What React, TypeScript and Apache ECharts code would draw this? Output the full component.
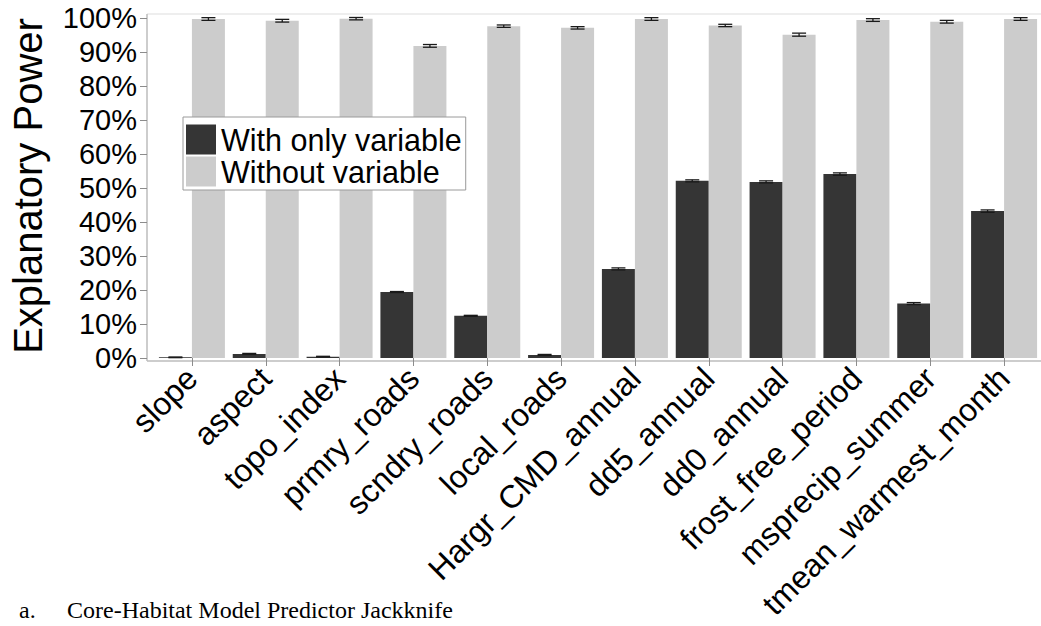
import React, { useEffect, useRef } from "react";
import * as echarts from "echarts";

const categories = [
  "slope",
  "aspect",
  "topo_index",
  "prmry_roads",
  "scndry_roads",
  "local_roads",
  "Hargr_CMD_annual",
  "dd5_annual",
  "dd0_annual",
  "frost_free_period",
  "msprecip_summer",
  "tmean_warmest_month",
];
const withOnly = [0.2, 1.2, 0.4, 19.4, 12.4, 0.9, 26.2, 52.1, 51.8, 54.1, 16.0, 43.2];
const withOnlyErr = [0.1, 0.15, 0.1, 0.15, 0.15, 0.15, 0.3, 0.3, 0.3, 0.35, 0.3, 0.35];
const without = [99.7, 99.2, 99.8, 91.8, 97.6, 97.1, 99.7, 97.8, 95.1, 99.4, 98.9, 99.7];
const withoutErr = [0.4, 0.4, 0.35, 0.4, 0.35, 0.35, 0.4, 0.35, 0.45, 0.4, 0.4, 0.4];
const yTicks = [0, 10, 20, 30, 40, 50, 60, 70, 80, 90, 100];
const seriesNames = ["With only variable", "Without variable"];

const SANS = "'Liberation Sans', Arial, Helvetica, sans-serif";
const SERIF = "'Liberation Serif', 'Times New Roman', serif";
const BAR_W = 33;

function errorSeries(values: number[], errs: number[], side: number) {
  return {
    type: "custom",
    name: "err" + side,
    coordinateSystem: "cartesian2d",
    silent: true,
    z: 10,
    encode: { x: 0, y: 1 },
    data: values.map((v, i) => [i, v, errs[i]]),
    renderItem: (params: any, api: any) => {
      const i = api.value(0);
      const v = api.value(1);
      const e = api.value(2);
      const top = api.coord([i, v + e]);
      const bot = api.coord([i, v - e]);
      const cx = top[0] + side * (BAR_W / 2);
      const hw = 7;
      const style = { stroke: "#1a1a1a", lineWidth: 1.3 };
      return {
        type: "group",
        children: [
          { type: "line", shape: { x1: cx, y1: top[1], x2: cx, y2: bot[1] }, style },
          { type: "line", shape: { x1: cx - hw, y1: top[1], x2: cx + hw, y2: top[1] }, style },
          { type: "line", shape: { x1: cx - hw, y1: bot[1], x2: cx + hw, y2: bot[1] }, style },
        ],
      };
    },
  };
}

export default function App() {
  const ref = useRef<HTMLDivElement>(null);
  useEffect(() => {
    if (!ref.current) return;
    const chart = echarts.init(ref.current, undefined, { renderer: "svg" });
    chart.setOption({
      animation: false,
      backgroundColor: "#ffffff",
      grid: { left: 155, top: 18, width: 888, height: 340, containLabel: false },
      legend: {
        data: seriesNames,
        orient: "vertical",
        left: 183,
        top: 117,
        padding: [7, 4, 3, 3],
        itemGap: 1,
        itemWidth: 30,
        itemHeight: 30,
        icon: "rect",
        borderColor: "#9a9a9a",
        borderWidth: 1,
        backgroundColor: "#ffffff",
        textStyle: { fontFamily: SANS, fontSize: 30.5, color: "#000", lineHeight: 30 },
      },
      xAxis: {
        type: "category",
        data: categories,
        offset: 3,
        axisLine: { show: false },
        axisTick: { show: true, alignWithLabel: true, length: 8, lineStyle: { color: "#8c8c8c" } },
        axisLabel: {
          rotate: 45,
          margin: 12,
          interval: 0,
          fontFamily: SANS,
          fontSize: 32,
          color: "#000",
        },
      },
      yAxis: {
        type: "value",
        min: 0,
        max: 100,
        interval: 10,
        offset: 8,
        axisLine: { show: false },
        axisTick: { show: true, length: 7, lineStyle: { color: "#8c8c8c" } },
        splitLine: { show: false },
        axisLabel: {
          margin: 10,
          fontFamily: SANS,
          fontSize: 29,
          color: "#000",
          formatter: (v: number) => (yTicks.includes(v) ? v + "%" : ""),
        },
      },
      series: [
        {
          name: seriesNames[0],
          type: "bar",
          data: withOnly,
          barWidth: BAR_W,
          barGap: "0%",
          itemStyle: { color: "#353535" },
        },
        {
          name: seriesNames[1],
          type: "bar",
          data: without,
          barWidth: BAR_W,
          barGap: "0%",
          itemStyle: { color: "#cccccc" },
        },
        errorSeries(withOnly, withOnlyErr, -1),
        errorSeries(without, withoutErr, 1),
      ],
      graphic: [
        { type: "line", shape: { x1: 147, y1: 14, x2: 1041, y2: 14 }, style: { stroke: "#e8e8e8", lineWidth: 1.5 } },
        { type: "line", shape: { x1: 147, y1: 14, x2: 147, y2: 361 }, style: { stroke: "#bdbdbd", lineWidth: 1.5 } },
        { type: "line", shape: { x1: 147, y1: 361, x2: 1041, y2: 361 }, style: { stroke: "#bdbdbd", lineWidth: 1.5 } },
        {
          type: "text",
          x: 28,
          y: 186,
          rotation: Math.PI / 2,
          style: {
            text: "Explanatory Power",
            fontFamily: SANS,
            fontSize: 40,
            fill: "#000",
            align: "center",
            verticalAlign: "middle",
          },
        },
        {
          type: "text",
          x: 19,
          y: 610,
          style: { text: "a.", fontFamily: SERIF, fontSize: 24, fill: "#000", verticalAlign: "middle" },
        },
        {
          type: "text",
          x: 67,
          y: 610,
          style: {
            text: "Core-Habitat Model Predictor Jackknife",
            fontFamily: SERIF,
            fontSize: 24,
            fill: "#000",
            verticalAlign: "middle",
          },
        },
      ],
    });
    return () => chart.dispose();
  }, []);
  return (
    <div
      ref={ref}
      style={{ position: "absolute", left: 0, top: 0, width: 1041, height: 626 }}
    />
  );
}
